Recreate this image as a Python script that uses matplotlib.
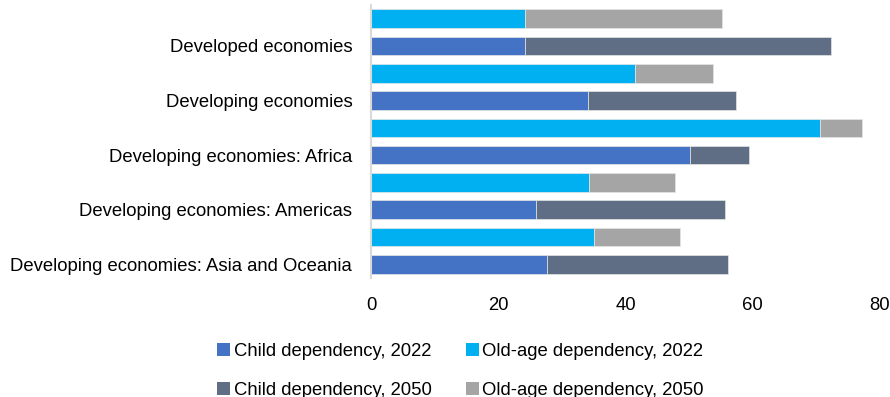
import numpy as np
import matplotlib.pyplot as plt
from matplotlib.patches import Patch

plt.rcParams["font.family"] = ["Liberation Sans", "DejaVu Sans"]

regions = [
    "Developed economies",
    "Developing economies",
    "Developing economies: Africa",
    "Developing economies: Americas",
    "Developing economies: Asia and Oceania",
]
child_2022 = [24.2, 34.1, 50.1, 26.0, 27.7]
child_2050_add = [48.1, 23.3, 9.3, 29.6, 28.4]
old_2022 = [24.2, 41.5, 70.5, 34.3, 35.0]
old_2050_add = [30.9, 12.3, 6.6, 13.5, 13.6]

labels = [
    "Child dependency, 2022",
    "Child dependency, 2050",
    "Old-age dependency, 2022",
    "Old-age dependency, 2050",
]
colors = ["#4472C4", "#5F6E84", "#00B0F0", "#A5A5A5"]

fig = plt.figure(figsize=(8.9, 3.97), dpi=100)
ax = fig.add_axes([371 / 890, 1 - 278 / 397, (880 - 371) / 890, (278 - 5) / 397])

n = len(regions)
y_old = np.arange(n) * 2
y_child = y_old + 1
h = 0.68
ew = dict(edgecolor="#e6e6e6", linewidth=0.5)

ax.barh(y_child, child_2022, height=h, color=colors[0], **ew)
ax.barh(y_child, child_2050_add, left=child_2022, height=h, color=colors[1], **ew)
ax.barh(y_old, old_2022, height=h, color=colors[2], **ew)
ax.barh(y_old, old_2050_add, left=old_2022, height=h, color=colors[3], **ew)

ax.set_ylim(2 * n - 0.5, -0.5)
ax.set_xlim(0, 80)
ax.set_xticks([0, 20, 40, 60, 80])
ax.set_yticks(y_child)
ax.set_yticklabels(regions)
ax.tick_params(axis="y", length=0, pad=13.5, labelsize=13.3)
ax.tick_params(axis="x", length=0, pad=13.5, labelsize=13.3)

for s in ["top", "right", "bottom"]:
    ax.spines[s].set_visible(False)
ax.spines["left"].set_color("#d9d9d9")
ax.spines["left"].set_linewidth(1.5)

handles = [Patch(facecolor=c, edgecolor="none") for c in colors]
fig.legend(
    handles,
    labels,
    ncol=2,
    loc="upper left",
    bbox_to_anchor=(217 / 890, 1 - 343 / 397),
    frameon=False,
    fontsize=13.3,
    handlelength=0.7,
    handleheight=0.7,
    handletextpad=0.2,
    columnspacing=1.85,
    labelspacing=1.18,
    borderpad=0,
    borderaxespad=0,
)

fig.savefig("out.png", dpi=100)
